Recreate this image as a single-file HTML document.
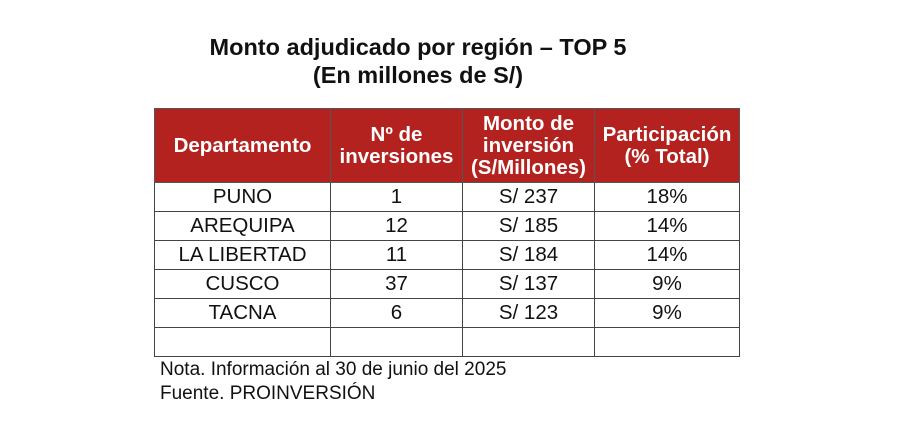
<!DOCTYPE html>
<html><head><meta charset="utf-8"><style>
body{margin:0;width:900px;height:440px;background:#fff;font-family:"Liberation Sans",Arial,sans-serif;color:#111;position:relative;overflow:hidden}
.t{position:absolute;left:0;width:836px;text-align:center;font-weight:bold;font-size:23.5px;line-height:28px}
table{position:absolute;left:154px;top:108px;border-collapse:collapse;font-size:20.5px}
td,th{border:1.5px solid #444;text-align:center;padding:0;line-height:22px;white-space:nowrap}
th{background:#b3221e;color:#fff;font-weight:bold;height:73px;border-color:#555;font-size:20.5px}
td{height:28px}
.n{position:absolute;left:160px;font-size:19px;line-height:22px}
</style></head><body>
<div class="t" style="top:33px">Monto adjudicado por región – TOP 5</div>
<div class="t" style="top:61px">(En millones de S/)</div>
<table>
<tr><th style="width:175px">Departamento</th><th style="width:131px">Nº de<br>inversiones</th><th style="width:131px">Monto de<br>inversión<br>(S/Millones)</th><th style="width:144px">Participación<br>(% Total)</th></tr>
<tr><td>PUNO</td><td>1</td><td>S/ 237</td><td>18%</td></tr>
<tr><td>AREQUIPA</td><td>12</td><td>S/ 185</td><td>14%</td></tr>
<tr><td>LA LIBERTAD</td><td>11</td><td>S/ 184</td><td>14%</td></tr>
<tr><td>CUSCO</td><td>37</td><td>S/ 137</td><td>9%</td></tr>
<tr><td>TACNA</td><td>6</td><td>S/ 123</td><td>9%</td></tr>
<tr><td></td><td></td><td></td><td></td></tr>
</table>
<div class="n" style="top:359px">Nota. Información al 30 de junio del 2025</div>
<div class="n" style="top:383px">Fuente. PROINVERSIÓN</div>
</body></html>
